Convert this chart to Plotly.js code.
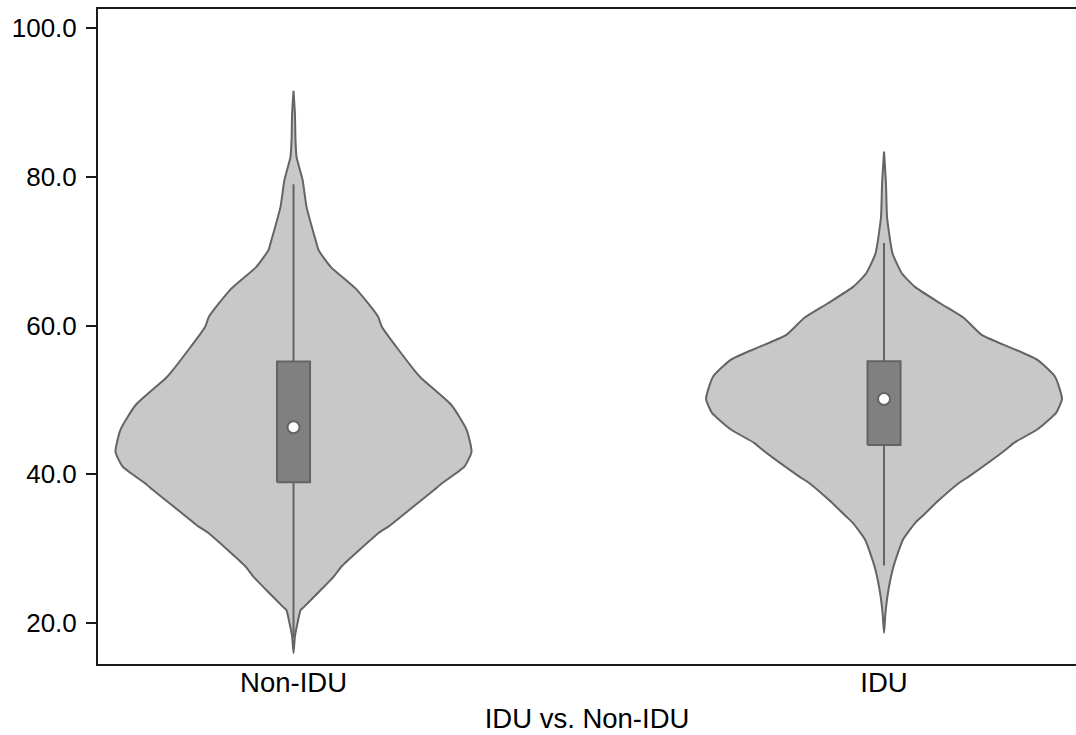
<!DOCTYPE html>
<html>
<head>
<meta charset="utf-8">
<script src="https://cdn.plot.ly/plotly-3.0.1.min.js"></script>
<style>
  html, body { margin: 0; padding: 0; background: #fff; }
  #chart { width: 1076px; height: 735px; }
</style>
</head>
<body>
<div id="chart"></div>
<script>
// Group labels and their positions on the category axis
const groups = ["Non-IDU", "IDU"];
const groupPos = [0, 1];

// Kernel density outlines: score levels and relative density (1 = widest point)
const nonIduScore = [15.9, 18.2, 20.0, 21.7, 22.2, 24.4, 26.2, 27.6, 32.1, 33.0, 35.6, 37.9, 38.8, 41.0, 43.0,
                     46.0, 49.3, 52.9, 54.0, 59.8, 61.2, 64.8, 67.9, 70.15, 71.5, 76.0, 79.6, 82.7, 85.0, 88.5, 91.6];
const nonIduDensity = [0, 0.008, 0.023, 0.040, 0.062, 0.153, 0.226, 0.271, 0.480, 0.537, 0.672, 0.791, 0.836, 0.960, 1.000,
                       0.972, 0.887, 0.718, 0.678, 0.497, 0.475, 0.356, 0.209, 0.141, 0.124, 0.073, 0.051, 0.017, 0.011, 0.008, 0];

const iduScore = [18.6, 21.3, 24.0, 27.1, 29.8, 31.2, 33.4, 34.3, 36.5, 38.8, 39.7, 43.3, 44.2, 46.0, 47.7, 48.2,
                  50.1, 53.1, 55.4, 57.0, 58.7, 61.0, 63.0, 65.2, 67.0, 69.7, 74.6, 79.1, 83.4];
const iduDensity = [0, 0.008, 0.022, 0.048, 0.084, 0.107, 0.174, 0.213, 0.309, 0.421, 0.478, 0.685, 0.730, 0.860, 0.944, 0.966,
                    1.000, 0.961, 0.860, 0.713, 0.551, 0.449, 0.315, 0.174, 0.101, 0.048, 0.017, 0.011, 0];

// Box summaries per group
const q1 = [38.9, 43.9];
const median = [46.3, 50.1];
const q3 = [55.15, 55.2];
const lowerAdj = [18.0, 27.7];
const upperAdj = [79.0, 71.1];

// Presentation
const halfWidth = 0.3014;   // widest half-width of a violin, in axis units
const boxWidth = 0.056;
const outline = "#646464";
const violinFill = "#c8c8c8";
const boxFill = "#808080";
const font = "'Liberation Sans', Arial, Helvetica, sans-serif";
const labelSize = 27.5;
const tickSizeY = 26;

function violinTrace(center, score, dens) {
  const xs = [], ys = [];
  for (let i = 0; i < score.length; i++) { xs.push(center + dens[i] * halfWidth); ys.push(score[i]); }
  for (let i = score.length - 1; i >= 0; i--) { xs.push(center - dens[i] * halfWidth); ys.push(score[i]); }
  return {
    type: "scatter", mode: "lines", x: xs, y: ys,
    fill: "toself", fillcolor: violinFill,
    line: { color: outline, width: 2, shape: "spline", smoothing: 0.5 },
    hoverinfo: "skip", showlegend: false
  };
}

// Whiskers (adjacent values) as one broken line
const whiskerX = [], whiskerY = [];
groupPos.forEach((p, i) => { whiskerX.push(p, p, null); whiskerY.push(lowerAdj[i], upperAdj[i], null); });

// Interquartile boxes as closed rectangles, kept in the same layer as the violins so they sit on top
function boxTrace(i) {
  const p = groupPos[i], h = boxWidth / 2;
  return {
    type: "scatter", mode: "lines",
    x: [p - h, p + h, p + h, p - h, p - h],
    y: [q1[i], q1[i], q3[i], q3[i], q1[i]],
    fill: "toself", fillcolor: boxFill,
    line: { color: outline, width: 2 },
    hoverinfo: "skip", showlegend: false
  };
}

const traces = [
  violinTrace(groupPos[0], nonIduScore, nonIduDensity),
  violinTrace(groupPos[1], iduScore, iduDensity),
  {
    type: "scatter", mode: "lines", x: whiskerX, y: whiskerY,
    line: { color: outline, width: 2 }, hoverinfo: "skip", showlegend: false
  },
  boxTrace(0),
  boxTrace(1),
  {
    type: "scatter", mode: "markers", x: groupPos, y: median,
    marker: { color: "#ffffff", size: 12, line: { color: outline, width: 2 } },
    hoverinfo: "skip", showlegend: false
  }
];

const layout = {
  width: 1076, height: 735,
  margin: { l: 98, r: 0, t: 9, b: 71, pad: 0 },
  paper_bgcolor: "#ffffff", plot_bgcolor: "#ffffff",
  font: { family: font, size: labelSize, color: "#000000" },
  showlegend: false,
  xaxis: {
    range: [-0.3311, 1.3251],
    tickvals: groupPos, ticktext: groups,
    ticks: "", showgrid: false, zeroline: false,
    showline: true, mirror: true, linecolor: "#1a1a1a", linewidth: 2,
    ticklabelstandoff: -7,
    title: { text: "IDU vs. Non-IDU", font: { size: labelSize, family: font, color: "#000000" }, standoff: 12 }
  },
  yaxis: {
    range: [14.44, 102.6],
    tickvals: [20, 40, 60, 80, 100], tickformat: ".1f",
    tickfont: { size: tickSizeY, family: font, color: "#000000" },
    ticks: "outside", ticklen: 10, tickwidth: 2, tickcolor: "#1a1a1a",
    showgrid: false, zeroline: false,
    showline: true, linecolor: "#1a1a1a", linewidth: 2,
    ticklabelstandoff: 4
  }
};

Plotly.newPlot("chart", traces, layout, { displayModeBar: false, staticPlot: true });
</script>
</body>
</html>
